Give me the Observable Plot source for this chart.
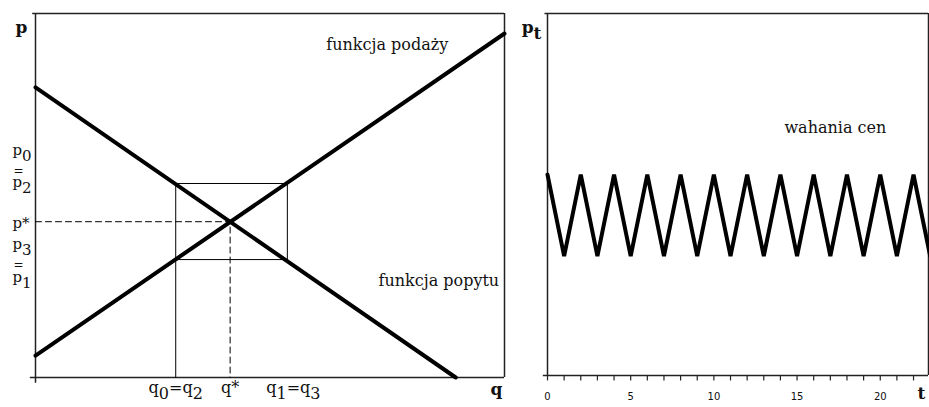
<!DOCTYPE html>
<html>
<head>
<meta charset="utf-8">
<script src="https://cdn.jsdelivr.net/npm/d3@7"></script>
<script src="https://cdn.jsdelivr.net/npm/@observablehq/plot@0.6"></script>
<style>
  html, body { margin: 0; padding: 0; background: #fff; }
  #chart { position: relative; width: 929px; height: 407px; overflow: hidden; }
  #chart svg { position: absolute; top: 0; background: transparent; }
</style>
</head>
<body>
<div id="chart"></div>
<script>
// Cobweb model: linear supply and demand on a 0–100 price/quantity grid
const supplyQ = [0, 100];
const supplyP = [6, 94.5];
const demandQ = [0, 89.6];
const demandP = [79.7, 0];

// Equilibrium and the two alternating price/quantity levels of the cycle
const qStar = 41.5, pStar = 42.8;
const qLow = 29.9, qHigh = 53.7;   // q0 = q2, q1 = q3
const pHigh = 53.3, pLow = 32.4;   // p0 = p2, p3 = p1

// Price over time: a steady oscillation between two levels
const periods = [0, 1, 2, 3, 4, 5, 6, 7, 8, 9, 10, 11, 12, 13, 14, 15, 16, 17, 18, 19, 20, 21, 22, 23];
const prices  = [55.5, 33, 55.5, 33, 55.5, 33, 55.5, 33, 55.5, 33, 55.5, 33,
                 55.5, 33, 55.5, 33, 55.5, 33, 55.5, 33, 55.5, 33, 55.5, 33];
const timeTicks = [0, 1, 2, 3, 4, 5, 6, 7, 8, 9, 10, 11, 12, 13, 14, 15, 16, 17, 18, 19, 20, 21, 22];
const timeLabels = [0, 5, 10, 15, 20];

const supply = supplyQ.map((q, i) => ({q, p: supplyP[i]}));
const demand = demandQ.map((q, i) => ({q, p: demandP[i]}));
const cobweb = [
  {q: qLow, p: 0}, {q: qLow, p: pHigh}, {q: qHigh, p: pHigh},
  {q: qHigh, p: pLow}, {q: qLow, p: pLow}
];
const guide = [{q: 0, p: pStar}, {q: qStar, p: pStar}, {q: qStar, p: 0}];
const series = periods.map((t, i) => ({t, p: prices[i]}));

const SERIF = "DejaVu Serif";
const AX = "#222";

// Turn "x_1" notation into a lowered subscript character
function subscripts(svg) {
  d3.select(svg).selectAll("text").each(function () {
    const s = this.textContent;
    if (!s.includes("_")) return;
    this.textContent = "";
    let shift = 0;
    for (let i = 0; i < s.length; i++) {
      let ch = s[i], sub = false;
      if (ch === "_") { sub = true; ch = s[++i]; }
      const t = document.createElementNS("http://www.w3.org/2000/svg", "tspan");
      const target = sub ? 6 : 0;
      if (target !== shift) { t.setAttribute("dy", target - shift); shift = target; }
      t.textContent = ch;
      this.appendChild(t);
    }
  });
  return svg;
}

const lbl = {fontFamily: SERIF, fontSize: 16, fill: "#111", stroke: null};
const side = {fontFamily: SERIF, fontSize: 15, fill: "#111", textAnchor: "start"};
const eq = {fontFamily: SERIF, fontSize: 12, fill: "#111", textAnchor: "start"};
const title = {fontFamily: SERIF, fontSize: 17, fontWeight: "bold", fill: "#111"};

const left = Plot.plot({
  width: 515, height: 407,
  marginLeft: 35, marginRight: 11, marginTop: 13, marginBottom: 30,
  x: {domain: [0, 100], axis: null},
  y: {domain: [0, 100], axis: null},
  style: {fontFamily: SERIF, background: "transparent"},
  marks: [
    // frame and axes
    Plot.ruleY([0], {x1: -1.1, x2: 100, stroke: AX, strokeWidth: 1.5}),
    Plot.ruleX([0], {y1: -1.6, y2: 100, stroke: AX, strokeWidth: 1.5}),
    Plot.ruleY([100], {x1: -0.6, x2: 100, stroke: AX, strokeWidth: 1.5}),
    Plot.ruleX([100], {y1: 0, y2: 100, stroke: AX, strokeWidth: 1.5}),
    // equilibrium guides
    Plot.line(guide, {x: "q", y: "p", stroke: "#000", strokeWidth: 1, strokeDasharray: "6,4"}),
    // cobweb path
    Plot.line(cobweb, {x: "q", y: "p", stroke: "#000", strokeWidth: 1}),
    // supply and demand
    Plot.line(supply, {x: "q", y: "p", stroke: "#000", strokeWidth: 4}),
    Plot.line(demand, {x: "q", y: "p", stroke: "#000", strokeWidth: 4}),
    // curve names
    Plot.text(["funkcja podaży"], {x: 75, y: 91.5, text: d => d, ...lbl}),
    Plot.text(["funkcja popytu"], {x: 86, y: 26.5, text: d => d, ...lbl}),
    // axis titles
    Plot.text(["p"], {x: 0, y: 100, text: d => d, dx: -14, dy: 14, ...title}),
    Plot.text(["q"], {x: 100, y: 0, text: d => d, dx: -8, dy: 12, ...title}),
    // price levels on the vertical axis
    Plot.text(["p_0"], {x: 0, y: pHigh, text: d => d, dx: -23, dy: -33, ...side}),
    Plot.text(["="], {x: 0, y: pHigh, text: d => d, dx: -22, dy: -12, ...eq}),
    Plot.text(["p_2"], {x: 0, y: pHigh, text: d => d, dx: -23, dy: -1, ...side}),
    Plot.text(["p*"], {x: 0, y: pStar, text: d => d, dx: -23, dy: 1, ...side}),
    Plot.text(["p_3"], {x: 0, y: pLow, text: d => d, dx: -23, dy: -15, ...side}),
    Plot.text(["="], {x: 0, y: pLow, text: d => d, dx: -22, dy: 6, ...eq}),
    Plot.text(["p_1"], {x: 0, y: pLow, text: d => d, dx: -23, dy: 18, ...side}),
    // quantity levels on the horizontal axis
    Plot.text(["q_0=q_2"], {x: qLow, y: 0, text: d => d, dx: 0, dy: 10, ...lbl}),
    Plot.text(["q*"], {x: qStar, y: 0, text: d => d, dx: 0, dy: 10, ...lbl}),
    Plot.text(["q_1=q_3"], {x: qHigh, y: 0, text: d => d, dx: 6, dy: 10, ...lbl})
  ]
});
left.style.left = "0px";

const right = Plot.plot({
  width: 414, height: 407,
  marginLeft: 32, marginRight: 1, marginTop: 13, marginBottom: 32,
  x: {domain: [0, 22.9], axis: null},
  y: {domain: [0, 100], axis: null},
  style: {fontFamily: SERIF, background: "transparent"},
  marks: [
    // frame and time axis
    Plot.ruleY([0], {x1: -0.25, x2: 22.9, stroke: AX, strokeWidth: 1.5}),
    Plot.ruleX([0], {y1: 0, y2: 100, stroke: AX, strokeWidth: 1.5}),
    Plot.ruleY([100], {x1: -0.15, x2: 22.9, stroke: AX, strokeWidth: 1.5}),
    Plot.ruleX([22.9], {y1: 0, y2: 100, stroke: AX, strokeWidth: 1.5}),
    Plot.ruleX(timeTicks, {x: d => d, y1: 0, y2: -1.5, stroke: AX, strokeWidth: 1.2}),
    Plot.text(timeLabels, {x: d => d, y: 0, text: d => String(d), dy: 21, fontFamily: "DejaVu Sans", fontSize: 10, fill: "#111"}),
    Plot.text(["t"], {x: 22.9, y: 0, text: d => d, dx: -7, dy: 18, ...title}),
    Plot.text(["p_t"], {x: 0, y: 100, text: d => d, dx: -16, dy: 14, ...title}),
    // price path
    Plot.line(series, {x: "t", y: "p", stroke: "#000", strokeWidth: 4, strokeLinejoin: "miter", strokeMiterlimit: 3}),
    Plot.text(["wahania cen"], {x: 17.3, y: 68.5, text: d => d, ...lbl})
  ]
});
right.style.left = "515px";

const chart = document.getElementById("chart");
chart.appendChild(subscripts(left));
chart.appendChild(subscripts(right));
</script>
</body>
</html>
